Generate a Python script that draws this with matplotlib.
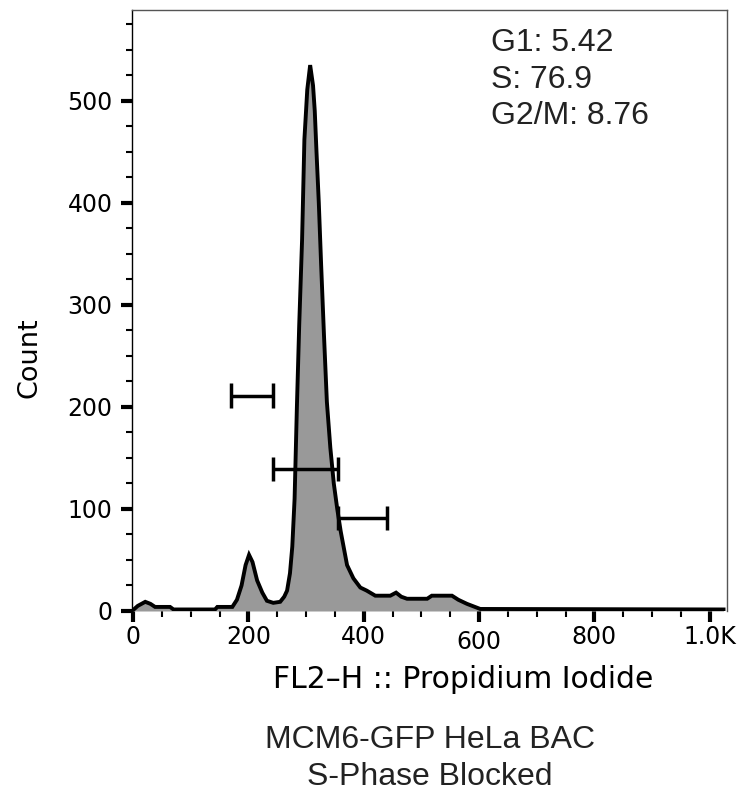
import matplotlib
matplotlib.use("Agg")
import matplotlib.pyplot as plt
from matplotlib.ticker import FixedLocator, MultipleLocator

# ---- data ----
pi_values = [0, 8, 21, 30, 38, 64, 70, 100, 142, 146, 172, 180, 188, 195, 201, 207,
             215, 224, 232, 243, 255, 262, 267, 272, 276, 280, 284, 288, 293, 297,
             302, 307, 312, 315, 318, 322, 326, 331, 336, 342, 348, 354, 360, 364,
             371, 382, 394, 405, 420, 446, 456, 465, 475, 510, 518, 553, 564, 579,
             602, 1024]
counts = [1, 5, 9, 7, 4, 4, 1.5, 1.5, 1.5, 4, 4, 11, 25, 45, 55, 48,
          30, 18, 10, 8, 9, 14, 20, 37, 63, 110, 200, 280, 364, 462,
          511, 535, 515, 490, 450, 400, 340, 270, 205, 160, 125, 100, 78, 66,
          45, 32, 23, 20, 15, 15, 18, 14, 12, 12, 15, 15, 11, 7,
          2, 1.5]

gate_names = ["G1", "S", "G2/M"]
gate_lo = [169, 242, 355]
gate_hi = [242, 355, 440]
gate_y = [211, 139, 91]
gate_pct = ["5.42", "76.9", "8.76"]

x_ticks = [0, 200, 400, 600, 800, 1000]
x_tick_labels = ["0", "200", "400", "600", "800", "1.0K"]
y_ticks = [0, 100, 200, 300, 400, 500]

# ---- figure ----
W, H = 744, 793
fig = plt.figure(figsize=(W / 100, H / 100), dpi=100)
ax = fig.add_axes([132 / W, 1 - 611 / H, (727 - 132) / W, (611 - 10) / H])

ax.fill_between(pi_values, counts, 0, color="#999999", lw=0, zorder=2)
ax.plot(pi_values, counts, color="black", lw=2.8, solid_joinstyle="miter", zorder=3)

cap = 12
for lo, hi, yv in zip(gate_lo, gate_hi, gate_y):
    ax.plot([lo, hi], [yv, yv], color="black", lw=2.5, zorder=4, solid_capstyle="butt")
    ax.plot([lo, lo], [yv - cap, yv + cap], color="black", lw=2.5, zorder=4, solid_capstyle="butt")
    ax.plot([hi, hi], [yv - cap, yv + cap], color="black", lw=2.5, zorder=4, solid_capstyle="butt")

ax.set_xlim(-2, 1030)
ax.set_ylim(0, 589)

ax.xaxis.set_major_locator(FixedLocator(x_ticks))
ax.set_xticklabels(x_tick_labels)
ax.xaxis.set_minor_locator(MultipleLocator(50))
ax.yaxis.set_major_locator(FixedLocator(y_ticks))
ax.yaxis.set_minor_locator(MultipleLocator(25))

ax.tick_params(which="major", direction="out", length=8, width=3, color="black",
               labelsize=17, labelcolor="black")
ax.tick_params(axis="y", which="major", pad=6)
ax.tick_params(axis="x", which="major", pad=2)
ax.tick_params(which="minor", direction="out", length=4.5, width=1.5, color="black")
ax.tick_params(top=False, right=False)

for s in ["top", "right"]:
    ax.spines[s].set_color("#555555")
    ax.spines[s].set_linewidth(1.0)
ax.spines["left"].set_color("black")
ax.spines["left"].set_linewidth(1.0)
ax.spines["bottom"].set_visible(False)

# the "600" label sits slightly lower in the reference
try:
    ax.xaxis.get_major_ticks()[3].label1.set_y(-0.009)
except Exception:
    pass

for i, (n, p) in enumerate(zip(gate_names, gate_pct)):
    fig.text(491 / W, 1 - (51 + 36.5 * i) / H, f"{n}: {p}", ha="left", va="baseline",
             fontsize=23, family="Liberation Sans", color="#222222")

fig.text(30 / W, 1 - 358 / H, "Count", rotation=90, ha="center", va="center",
         fontsize=19.5, family="DejaVu Sans", color="black")
fig.text(463 / W, 1 - 688 / H, "FL2\u2013H :: Propidium Iodide", ha="center",
         va="baseline", fontsize=21.5, family="DejaVu Sans", color="black")
fig.text(430 / W, 1 - 748 / H, "MCM6-GFP HeLa BAC", ha="center", va="baseline",
         fontsize=23, family="Liberation Sans", color="#222222")
fig.text(430 / W, 1 - 785 / H, "S-Phase Blocked", ha="center", va="baseline",
         fontsize=23, family="Liberation Sans", color="#222222")

fig.savefig("out.png", dpi=100)
